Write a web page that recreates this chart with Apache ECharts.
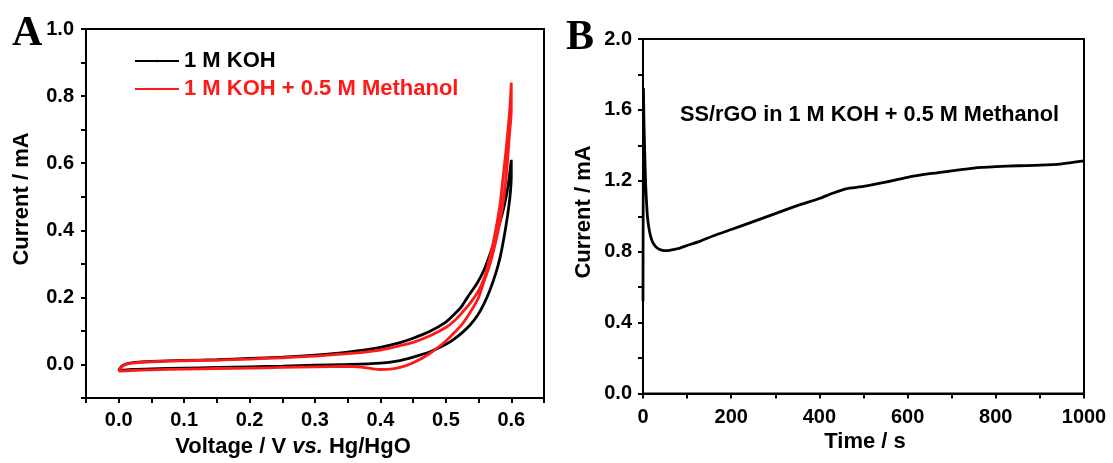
<!DOCTYPE html>
<html>
<head>
<meta charset="utf-8">
<script src="https://cdn.jsdelivr.net/npm/echarts@6/dist/echarts.min.js"></script>
<style>html,body{margin:0;padding:0;background:#fff;}#c{width:1113px;height:463px;}</style>
</head>
<body>
<div id="c"></div>
<script>
// ---- Panel A: cyclic voltammetry (Voltage V vs Hg/HgO, Current mA) ----
const kohForward = [[0.0,-0.018],[0.004,-0.006],[0.012,0.002],[0.025,0.006],[0.05,0.009],[0.1,0.012],[0.15,0.014],[0.2,0.018],[0.25,0.022],[0.3,0.028],[0.35,0.037],[0.4,0.051],[0.43,0.065],[0.45,0.078],[0.475,0.098],[0.5,0.126],[0.513,0.15],[0.523,0.17],[0.533,0.2],[0.548,0.243],[0.558,0.28],[0.565,0.315],[0.573,0.36],[0.579,0.4],[0.585,0.44],[0.59,0.48],[0.594,0.52],[0.597,0.56],[0.6,0.61]];
const kohReverse = [[0.6,0.61],[0.6,0.56],[0.598,0.5],[0.594,0.44],[0.589,0.38],[0.583,0.32],[0.576,0.27],[0.567,0.22],[0.558,0.18],[0.549,0.148],[0.538,0.12],[0.525,0.095],[0.512,0.075],[0.5,0.06],[0.475,0.037],[0.45,0.022],[0.425,0.01],[0.4,0.004],[0.35,0.0],[0.3,-0.002],[0.25,-0.005],[0.2,-0.007],[0.15,-0.009],[0.1,-0.011],[0.05,-0.013],[0.02,-0.015],[0.0,-0.018]];
const methForward = [[0.0,-0.02],[0.004,-0.008],[0.012,0.001],[0.025,0.005],[0.05,0.008],[0.1,0.011],[0.15,0.013],[0.2,0.016],[0.25,0.02],[0.3,0.025],[0.35,0.032],[0.4,0.043],[0.43,0.056],[0.45,0.066],[0.475,0.085],[0.5,0.11],[0.513,0.13],[0.525,0.155],[0.538,0.185],[0.55,0.22],[0.559,0.26],[0.566,0.31],[0.572,0.36],[0.578,0.42],[0.583,0.48],[0.587,0.55],[0.591,0.62],[0.595,0.7],[0.598,0.77],[0.6,0.84]];
const methReverse = [[0.6,0.84],[0.6,0.76],[0.597,0.68],[0.594,0.6],[0.59,0.52],[0.585,0.45],[0.579,0.39],[0.573,0.34],[0.566,0.29],[0.557,0.24],[0.549,0.195],[0.537,0.155],[0.525,0.12],[0.513,0.095],[0.5,0.07],[0.475,0.032],[0.45,0.005],[0.43,-0.009],[0.415,-0.014],[0.4,-0.015],[0.385,-0.012],[0.37,-0.008],[0.35,-0.006],[0.3,-0.007],[0.25,-0.009],[0.2,-0.011],[0.15,-0.012],[0.1,-0.014],[0.05,-0.016],[0.02,-0.018],[0.0,-0.02]];
const seriesNamesA = ['1 M KOH', '1 M KOH + 0.5 M Methanol'];

// ---- Panel B: chronoamperometry ----
const timeB = [0, 1, 2, 4, 6, 8, 10, 13, 16, 20, 25, 30, 40, 50, 60, 80, 100, 130, 160, 200, 250, 300, 350, 400, 430, 460, 500, 550, 600, 650, 700, 750, 800, 850, 900, 950, 1000];
const currentB = [0.52, 1.72, 1.55, 1.35, 1.18, 1.08, 1.0, 0.94, 0.9, 0.865, 0.84, 0.825, 0.81, 0.806, 0.808, 0.818, 0.835, 0.86, 0.89, 0.925, 0.97, 1.015, 1.06, 1.1, 1.13, 1.155, 1.168, 1.192, 1.22, 1.24, 1.256, 1.272, 1.28, 1.285, 1.288, 1.296, 1.312];

const labelA = 'A', labelB = 'B';
const xNameA = ['Voltage / V ', 'vs.', ' Hg/HgO'];
const yName = 'Current / mA';
const xNameB = 'Time / s';
const noteB = 'SS/rGO in 1 M KOH + 0.5 M Methanol';

const F = 'Liberation Sans, Arial, sans-serif';
const tickFont = {color: '#000', fontFamily: F, fontWeight: 'bold', fontSize: 20};

function isMult(v, step) { const r = v / step; return Math.abs(r - Math.round(r)) < 1e-6; }

function baseAxis(extra) {
  return Object.assign({
    axisLine: {show: true, onZero: false, lineStyle: {color: '#000', width: 2}},
    axisTick: {show: true, inside: false, length: 5, lineStyle: {color: '#000', width: 2}},
    splitLine: {show: false}
  }, extra);
}

const chart = echarts.init(document.getElementById('c'), null, {renderer: 'canvas'});
chart.setOption({
  animation: false,
  backgroundColor: '#fff',
  grid: [
    {left: 86, top: 29, width: 458, height: 369, show: true, borderColor: '#000', borderWidth: 2, backgroundColor: 'transparent'},
    {left: 643, top: 39, width: 441, height: 354.5, show: true, borderColor: '#000', borderWidth: 2, backgroundColor: 'transparent'}
  ],
  xAxis: [
    baseAxis({type: 'value', gridIndex: 0, min: -0.05, max: 0.65, interval: 0.05,
      axisLabel: Object.assign({margin: 12, formatter: v => isMult(v, 0.1) ? (Math.abs(v) < 1e-9 ? '0.0' : v.toFixed(1)) : ''}, tickFont)}),
    baseAxis({type: 'value', gridIndex: 1, min: 0, max: 1000, interval: 100,
      axisLabel: Object.assign({margin: 14, formatter: v => isMult(v, 200) ? String(Math.round(v)) : ''}, tickFont)})
  ],
  yAxis: [
    baseAxis({type: 'value', gridIndex: 0, min: -0.1, max: 1.0, interval: 0.1,
      axisLabel: Object.assign({margin: 12, formatter: v => (isMult(v, 0.2) && v > -0.05) ? (Math.abs(v) < 1e-9 ? '0.0' : v.toFixed(1)) : ''}, tickFont)}),
    baseAxis({type: 'value', gridIndex: 1, min: 0, max: 2.0, interval: 0.2,
      axisLabel: Object.assign({margin: 11, formatter: v => isMult(v, 0.4) ? v.toFixed(1) : ''}, tickFont)})
  ],
  legend: {
    data: [
      {name: seriesNamesA[0], textStyle: {color: '#000'}},
      {name: seriesNamesA[1], textStyle: {color: '#ff1a1a'}}
    ],
    orient: 'vertical', left: 134, top: 50, padding: 0, itemWidth: 44, itemHeight: 3, itemGap: 6,
    textStyle: {fontFamily: F, fontWeight: 'bold', fontSize: 22, lineHeight: 22},
    selectedMode: false
  },
  series: [
    {name: seriesNamesA[0], type: 'line', xAxisIndex: 0, yAxisIndex: 0, symbol: 'none', smooth: 0.3,
      data: kohForward.concat(kohReverse.slice(1)), lineStyle: {color: '#000', width: 2.8}, itemStyle: {color: '#000'}, z: 3},
    {name: seriesNamesA[1], type: 'line', xAxisIndex: 0, yAxisIndex: 0, symbol: 'none', smooth: 0.3,
      data: methForward.concat(methReverse.slice(1)), lineStyle: {color: '#ff1a1a', width: 2.8}, itemStyle: {color: '#ff1a1a'}, z: 4},
    {name: 'SS/rGO', type: 'line', xAxisIndex: 1, yAxisIndex: 1, symbol: 'none', smooth: 0.2,
      data: timeB.map((t, i) => [t, currentB[i]]), lineStyle: {color: '#000', width: 2.8}, z: 3}
  ],
  graphic: [
    {type: 'text', x: 12, y: 34, style: {text: labelA, fontFamily: 'Liberation Serif, Times New Roman, serif', fontWeight: 'bold', fontSize: 42, fill: '#000', textVerticalAlign: 'middle'}},
    {type: 'text', x: 566, y: 38, style: {text: labelB, fontFamily: 'Liberation Serif, Times New Roman, serif', fontWeight: 'bold', fontSize: 42, fill: '#000', textVerticalAlign: 'middle'}},
    {type: 'text', x: 22, y: 199, rotation: Math.PI / 2, style: {text: yName, fontFamily: F, fontWeight: 'bold', fontSize: 22, fill: '#000', textAlign: 'center', textVerticalAlign: 'middle'}},
    {type: 'text', x: 584, y: 212, rotation: Math.PI / 2, style: {text: yName, fontFamily: F, fontWeight: 'bold', fontSize: 22, fill: '#000', textAlign: 'center', textVerticalAlign: 'middle'}},
    {type: 'text', x: 293, y: 447, style: {
      text: '{n|' + xNameA[0] + '}{i|' + xNameA[1] + '}{n|' + xNameA[2] + '}',
      rich: {n: {fontFamily: F, fontWeight: 'bold', fontSize: 22, fill: '#000'}, i: {fontFamily: F, fontWeight: 'bold', fontStyle: 'italic', fontSize: 22, fill: '#000'}},
      textAlign: 'center', textVerticalAlign: 'middle'}},
    {type: 'text', x: 865, y: 442, style: {text: xNameB, fontFamily: F, fontWeight: 'bold', fontSize: 22, fill: '#000', textAlign: 'center', textVerticalAlign: 'middle'}},
    {type: 'text', x: 680, y: 115, style: {text: noteB, fontFamily: F, fontWeight: 'bold', fontSize: 21.7, fill: '#000', textVerticalAlign: 'middle'}}
  ]
});
</script>
</body>
</html>
